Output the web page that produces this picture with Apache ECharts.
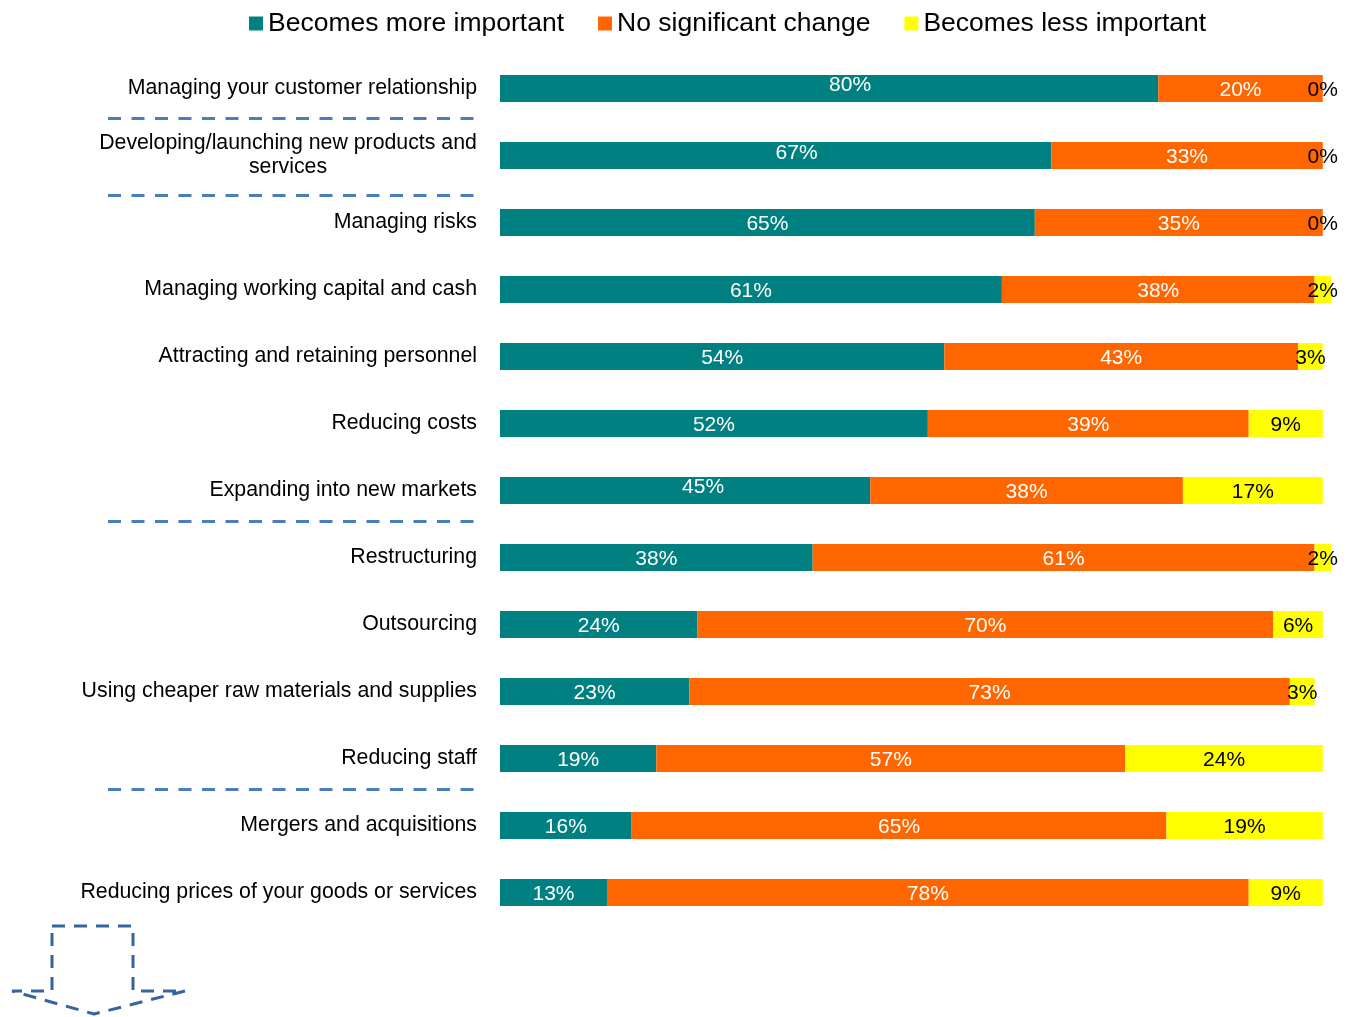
<!DOCTYPE html>
<html>
<head>
<meta charset="utf-8">
<script src="https://cdn.jsdelivr.net/npm/echarts@6/dist/echarts.min.js"></script>
<style>
  html, body { margin: 0; padding: 0; background: #fff; }
  #chart { width: 1354px; height: 1017px; }
</style>
</head>
<body>
<div id="chart"></div>
<script>
// Activities, top to bottom
const categories = [
  'Managing your customer relationship',
  'Developing/launching new products and\nservices',
  'Managing risks',
  'Managing working capital and cash',
  'Attracting and retaining personnel',
  'Reducing costs',
  'Expanding into new markets',
  'Restructuring',
  'Outsourcing',
  'Using cheaper raw materials and supplies',
  'Reducing staff',
  'Mergers and acquisitions',
  'Reducing prices of your goods or services'
];

// Share of respondents (%)
const moreImportant = [80, 67, 65, 61, 54, 52, 45, 38, 24, 23, 19, 16, 13];
const noChange      = [20, 33, 35, 38, 43, 39, 38, 61, 70, 73, 57, 65, 78];
const lessImportant = [0, 0, 0, 2, 3, 9, 17, 2, 6, 3, 24, 19, 9];

const seriesNames = ['Becomes more important', 'No significant change', 'Becomes less important'];

// Group dividers drawn after these rows
const dividerAfter = [0, 1, 6, 10];
const dividerShift = [-4, 6, -3, -3];

const FONT = '"Liberation Sans", Arial, sans-serif';

// hand-placed labels on a few of the green bars
const labelNudge = { 0: [21, -3], 1: [21, -2], 6: [18, -3] };

function greenData() {
  return moreImportant.map((v, i) => {
    if (labelNudge[i]) return { value: v, label: { offset: labelNudge[i] } };
    return v;
  });
}

const chart = echarts.init(document.getElementById('chart'), null, { renderer: 'canvas' });

const labelBase = {
  show: true, position: 'inside', offset: [0, 2],
  fontFamily: FONT, fontSize: 21, formatter: '{c}%'
};

const option = {
  animation: false,
  backgroundColor: '#ffffff',
  textStyle: { fontFamily: FONT },
  legend: {
    left: 244,
    top: 5,
    itemWidth: 14,
    itemHeight: 14,
    itemGap: 34,
    icon: 'rect',
    textStyle: { fontFamily: FONT, fontSize: 26.5, color: '#000' },
    data: seriesNames
  },
  grid: { left: 500, right: 23, top: 55, bottom: 91, containLabel: false },
  xAxis: {
    type: 'value', min: 0, max: 101, show: false
  },
  yAxis: {
    type: 'category',
    inverse: true,
    data: categories,
    axisLine: { show: false },
    axisTick: { show: false },
    axisLabel: {
      margin: 23,
      color: '#000',
      fontFamily: FONT,
      fontSize: 21.3,
      lineHeight: 24,
      formatter: function (v) {
        if (v.indexOf('\n') >= 0) {
          return v.split('\n').map(s => '{c|' + s + '}').join('\n');
        }
        return v;
      },
      rich: {
        c: { width: 378, align: 'center', fontFamily: FONT, fontSize: 21.3, lineHeight: 24, color: '#000' }
      }
    }
  },
  series: [
    {
      name: seriesNames[0], type: 'bar', stack: 'total', barWidth: 27,
      itemStyle: { color: '#008080' },
      label: Object.assign({}, labelBase, { color: '#fff' }),
      data: greenData()
    },
    {
      name: seriesNames[1], type: 'bar', stack: 'total', barWidth: 27,
      itemStyle: { color: '#FF6600' },
      label: Object.assign({}, labelBase, { color: '#fff' }),
      data: noChange
    },
    {
      name: seriesNames[2], type: 'bar', stack: 'total', barWidth: 27,
      itemStyle: { color: '#FFFF00' },
      label: Object.assign({}, labelBase, { color: '#000' }),
      data: lessImportant
    }
  ]
};

chart.setOption(option);

// Dashed group dividers beside the category labels, placed between rows
const graphics = dividerAfter.map((idx, k) => {
  const y0 = chart.convertToPixel({ yAxisIndex: 0 }, idx);
  const y1 = chart.convertToPixel({ yAxisIndex: 0 }, idx + 1);
  const y = Math.round((y0 + y1) / 2 + dividerShift[k]) + 0.5;
  return {
    type: 'line',
    shape: { x1: 108, y1: y, x2: 474, y2: y },
    style: { stroke: '#4A7EBB', lineWidth: 3, lineDash: [13, 10.5] },
    silent: true
  };
});

// Dashed outline arrow pointing down, bottom-left
graphics.push({
  type: 'polygon',
  shape: {
    points: [[52, 926], [133, 926], [133, 991], [185, 991], [94, 1014], [12, 991], [52, 991]]
  },
  style: { fill: 'none', stroke: '#34659C', lineWidth: 3, lineDash: [13, 9], lineJoin: 'bevel' },
  silent: true
});

chart.setOption({ graphic: graphics });
</script>
</body>
</html>
